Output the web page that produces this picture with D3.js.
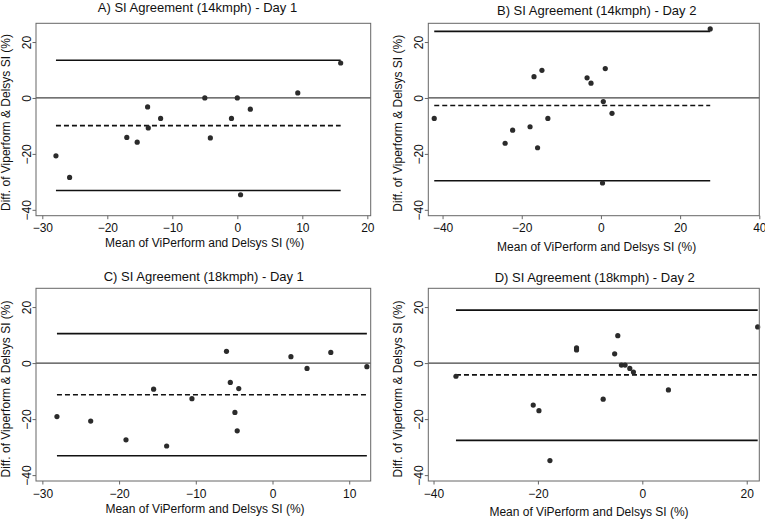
<!DOCTYPE html>
<html>
<head>
<meta charset="utf-8">
<script src="https://cdn.jsdelivr.net/npm/d3@7"></script>
<style>
  html, body { margin: 0; padding: 0; background: #fff; }
  svg { display: block; }
  text { font-family: "Liberation Sans", Arial, sans-serif; fill: #111; }
</style>
</head>
<body>
<svg id="chart" width="765" height="520"></svg>
<script>
// ---------------- data ----------------
const titles = [
  "A) SI Agreement (14kmph) - Day 1",
  "B) SI Agreement (14kmph) - Day 2",
  "C) SI Agreement (18kmph) - Day 1",
  "D) SI Agreement (18kmph) - Day 2"
];
const xLabel = "Mean of ViPerform and Delsys SI (%)";
const yLabel = "Diff. of Viperform & Delsys SI (%)";

// Panel A: 14kmph Day 1
const meanA = [-27.9, -25.8, -17.0, -15.4, -13.8, -13.7, -11.8, -5.0, -4.15, -0.9, 0.0, 2.0, 0.5, 9.3, 15.9];
const diffA = [-20.7, -28.4, -14.1, -15.8, -3.2, -10.7, -7.3, 0.0, -14.3, -7.3, 0.0, -4.0, -34.6, 1.8, 12.5];
const limitsA = [13.5, -9.9, -33.1]; // upper LoA, bias, lower LoA

// Panel B: 14kmph Day 2
const meanB = [-42.1, -24.2, -22.3, -17.9, -16.9, -16.0, -14.9, -13.4, -3.5, -2.5, 0.6, 0.4, 1.1, 2.8, 27.6];
const diffB = [-7.3, -16.2, -11.5, -10.3, 7.6, -17.8, 9.9, -7.3, 7.2, 5.3, -1.3, -30.4, 10.5, -5.5, 24.7];
const limitsB = [23.8, -2.7, -29.6];

// Panel C: 18kmph Day 1
const meanC = [-28.1, -23.7, -19.1, -15.5, -13.8, -10.5, -6.0, -5.5, -4.9, -4.6, -4.4, 2.4, 4.5, 7.6, 12.3];
const diffC = [-19.1, -20.7, -27.4, -9.3, -29.6, -12.7, 4.2, -6.9, -17.6, -24.2, -9.1, 2.3, -1.9, 3.8, -1.3];
const limitsC = [10.5, -11.3, -33.1];

// Panel D: 18kmph Day 2
const meanD = [-35.7, -20.9, -19.8, -17.7, -12.6, -12.6, -7.5, -5.3, -4.7, -4.0, -3.3, -2.4, -1.7, 5.0, 22.1];
const diffD = [-4.7, -15.0, -17.0, -34.8, 5.4, 4.7, -12.9, 3.3, 9.8, -0.7, -0.7, -1.9, -3.2, -9.6, 12.9];
const limitsD = [18.9, -4.2, -27.6];

// axis ticks
const xTicksA = [-30, -20, -10, 0, 10, 20];
const xTicksB = [-40, -20, 0, 20, 40];
const xTicksC = [-30, -20, -10, 0, 10];
const xTicksD = [-40, -20, 0, 20];
const yTicks = [-40, -20, 0, 20];

// axis ranges
const xDomainA = [-30.97, 20.52];
const xDomainB = [-43.6, 40.0];
const xDomainC = [-30.83, 12.8];
const xDomainD = [-41.0, 22.41];
const yDomain = [-42.1, 26.7];

// ---------------- layout ----------------
const frames = [
  { l: 36,    r: 370.7, t: 23.3,  b: 215.7, titleX: 197.5, titleY: 12,  xlabX: 204.7, xlabY: 247, ylabX: 10,    ylabY: 122.5 },
  { l: 428.3, r: 759.3, t: 23.3,  b: 215.7, titleX: 596.7, titleY: 15,  xlabX: 596.7, xlabY: 251, ylabX: 401.5, ylabY: 123.3 },
  { l: 36,    r: 370.7, t: 288.3, b: 481,   titleX: 203.8, titleY: 281, xlabX: 205,   xlabY: 513, ylabX: 10,    ylabY: 389 },
  { l: 428.3, r: 759.3, t: 288.3, b: 481,   titleX: 594.7, titleY: 282, xlabX: 589,   xlabY: 516, ylabX: 401.5, ylabY: 389 }
];

const panels = [
  { title: titles[0], xs: meanA, ys: diffA, lim: limitsA, xt: xTicksA, xd: xDomainA },
  { title: titles[1], xs: meanB, ys: diffB, lim: limitsB, xt: xTicksB, xd: xDomainB },
  { title: titles[2], xs: meanC, ys: diffC, lim: limitsC, xt: xTicksC, xd: xDomainC },
  { title: titles[3], xs: meanD, ys: diffD, lim: limitsD, xt: xTicksD, xd: xDomainD }
];

const svg = d3.select("#chart");

panels.forEach((p, i) => {
  const f = frames[i];
  const x = d3.scaleLinear().domain(p.xd).range([f.l, f.r]);
  const y = d3.scaleLinear().domain(yDomain).range([f.b, f.t]);
  const g = svg.append("g");

  // zero reference line
  g.append("line")
    .attr("x1", f.l).attr("x2", f.r)
    .attr("y1", y(0)).attr("y2", y(0))
    .attr("stroke", "#444").attr("stroke-width", 1.2);

  // limits of agreement and bias
  const xmin = d3.min(p.xs), xmax = d3.max(p.xs);
  p.lim.forEach((v, k) => {
    g.append("line")
      .attr("x1", x(xmin)).attr("x2", x(xmax))
      .attr("y1", y(v)).attr("y2", y(v))
      .attr("stroke", "#111")
      .attr("stroke-width", 1.6)
      .attr("stroke-dasharray", k === 1 ? "5,3" : null);
  });

  // points
  g.selectAll("circle.pt")
    .data(p.xs.map((v, j) => [v, p.ys[j]]))
    .join("circle")
    .attr("class", "pt")
    .attr("cx", d => x(d[0]))
    .attr("cy", d => y(d[1]))
    .attr("r", 2.6)
    .attr("fill", "#2b2b2b");

  // frame
  g.append("rect")
    .attr("x", f.l).attr("y", f.t)
    .attr("width", f.r - f.l).attr("height", f.b - f.t)
    .attr("fill", "none").attr("stroke", "#666").attr("stroke-width", 1);

  // x axis
  const xa = g.append("g")
    .attr("transform", `translate(0,${f.b})`)
    .call(d3.axisBottom(x).tickValues(p.xt).tickSize(3.5).tickFormat(d3.format("d")));
  xa.select(".domain").remove();
  xa.selectAll(".tick line").attr("stroke", "#666");
  xa.selectAll(".tick text")
    .attr("y", 16.5).attr("dy", 0)
    .style("font-size", "12px")
    .style("font-family", "'Liberation Sans', Arial, sans-serif")
    .attr("fill", "#111");

  // y axis
  const ya = g.append("g")
    .attr("transform", `translate(${f.l},0)`)
    .call(d3.axisLeft(y).tickValues(yTicks).tickSize(3.5).tickFormat(d3.format("d")));
  ya.select(".domain").remove();
  ya.selectAll(".tick line").attr("stroke", "#666");
  ya.selectAll(".tick text")
    .attr("x", 0).attr("dy", 0)
    .attr("text-anchor", "middle")
    .attr("transform", "translate(-5.5,0) rotate(-90)")
    .style("font-size", "12px")
    .style("font-family", "'Liberation Sans', Arial, sans-serif")
    .attr("fill", "#111");

  // title
  g.append("text")
    .attr("x", f.titleX).attr("y", f.titleY)
    .attr("text-anchor", "middle")
    .style("font-size", "13px")
    .text(p.title);

  // axis titles
  g.append("text")
    .attr("x", f.xlabX).attr("y", f.xlabY)
    .attr("text-anchor", "middle")
    .style("font-size", "12px")
    .text(xLabel);

  g.append("text")
    .attr("transform", `translate(${f.ylabX},${f.ylabY}) rotate(-90)`)
    .attr("text-anchor", "middle")
    .style("font-size", "12px")
    .text(yLabel);
});
</script>
</body>
</html>
